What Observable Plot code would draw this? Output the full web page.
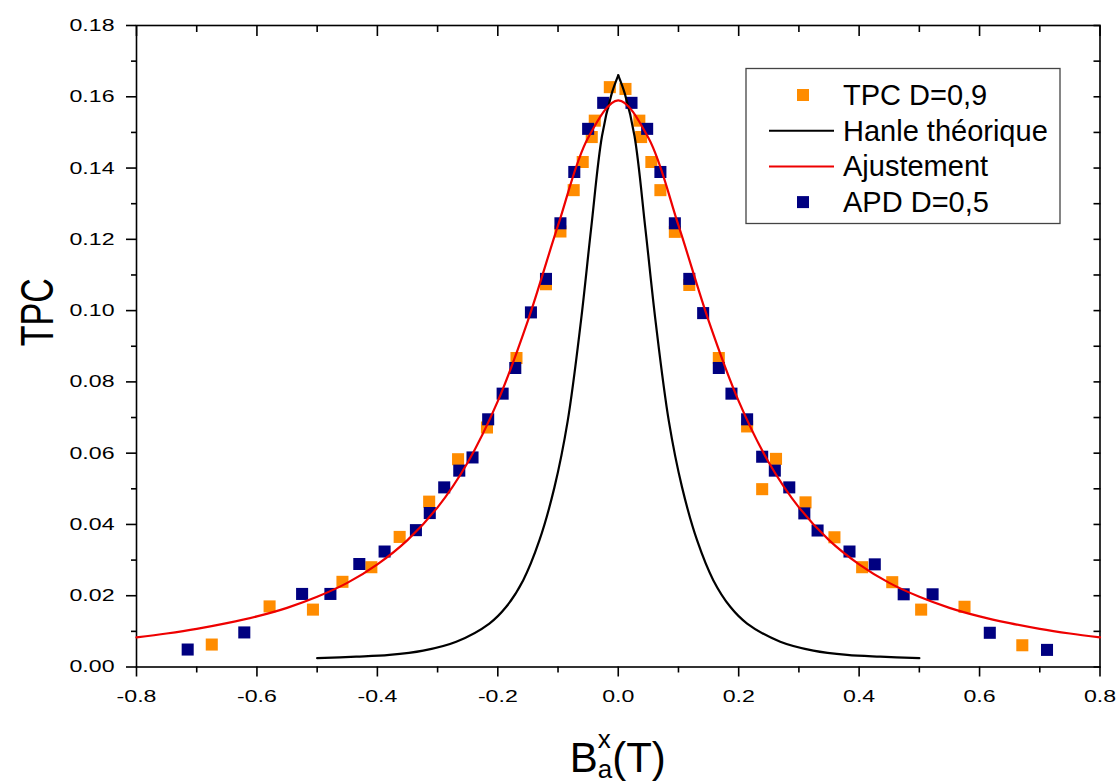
<!DOCTYPE html>
<html>
<head>
<meta charset="utf-8">
<script src="https://cdn.jsdelivr.net/npm/d3@7"></script>
<script src="https://cdn.jsdelivr.net/npm/@observablehq/plot@0.6"></script>
<style>
  html, body { margin: 0; padding: 0; background: #fff; }
</style>
</head>
<body>
<div id="chart"></div>
<script>
// ---- Data ----
const tpcX = [-0.675, -0.579, -0.507, -0.458, -0.410, -0.363, -0.314, -0.266, -0.218, -0.169, -0.120, -0.096, -0.074, -0.059, -0.044, -0.039, -0.014, 0.012, 0.035, 0.038, 0.055, 0.070, 0.094, 0.118, 0.167, 0.214, 0.239, 0.262, 0.311, 0.359, 0.405, 0.455, 0.503, 0.575, 0.671];
const tpcY = [0.0063, 0.0170, 0.0161, 0.0239, 0.0280, 0.0365, 0.0464, 0.0583, 0.0672, 0.0867, 0.1074, 0.1222, 0.1338, 0.1417, 0.1487, 0.1533, 0.1627, 0.1622, 0.1533, 0.1487, 0.1417, 0.1338, 0.1221, 0.1072, 0.0867, 0.0675, 0.0499, 0.0584, 0.0462, 0.0364, 0.0280, 0.0238, 0.0161, 0.0169, 0.0061];

const apdX = [-0.715, -0.621, -0.525, -0.478, -0.430, -0.388, -0.336, -0.313, -0.289, -0.264, -0.242, -0.216, -0.192, -0.171, -0.145, -0.120, -0.096, -0.073, -0.050, -0.025, 0.022, 0.048, 0.070, 0.094, 0.118, 0.141, 0.167, 0.188, 0.214, 0.239, 0.260, 0.284, 0.309, 0.331, 0.384, 0.426, 0.474, 0.522, 0.617, 0.712];
const apdY = [0.0049, 0.0097, 0.0205, 0.0205, 0.0289, 0.0324, 0.0384, 0.0432, 0.0504, 0.0551, 0.0588, 0.0695, 0.0767, 0.0839, 0.0995, 0.1089, 0.1245, 0.1389, 0.1510, 0.1583, 0.1583, 0.1510, 0.1389, 0.1245, 0.1089, 0.0993, 0.0839, 0.0767, 0.0695, 0.0590, 0.0551, 0.0504, 0.0431, 0.0383, 0.0324, 0.0288, 0.0204, 0.0204, 0.0096, 0.0048];

const hanleX = [-0.5, -0.435, -0.38, -0.324, -0.269, -0.214, -0.186, -0.158, -0.131, -0.106, -0.084, -0.062, -0.045, -0.027, -0.011, 0, 0.011, 0.027, 0.045, 0.062, 0.084, 0.106, 0.131, 0.158, 0.186, 0.214, 0.269, 0.324, 0.38, 0.435, 0.5];
const hanleY = [0.0025, 0.0029, 0.0034, 0.0046, 0.0071, 0.0122, 0.0169, 0.0243, 0.0355, 0.0504, 0.0690, 0.0970, 0.1231, 0.1490, 0.1608, 0.1660, 0.1608, 0.1490, 0.1231, 0.0970, 0.0690, 0.0504, 0.0355, 0.0243, 0.0169, 0.0122, 0.0071, 0.0046, 0.0034, 0.0029, 0.0025];

const fitX = [-0.8, -0.75, -0.7, -0.65, -0.6, -0.55, -0.5, -0.45, -0.4, -0.35, -0.3, -0.25, -0.2, -0.15, -0.1, -0.05, 0, 0.05, 0.1, 0.15, 0.2, 0.25, 0.3, 0.35, 0.4, 0.45, 0.5, 0.55, 0.6, 0.65, 0.7, 0.75, 0.8];
const fitY = [0.0083, 0.0094, 0.0107, 0.0123, 0.0142, 0.0166, 0.0197, 0.0236, 0.0288, 0.0356, 0.0448, 0.0574, 0.0746, 0.0972, 0.1239, 0.1485, 0.1590, 0.1485, 0.1239, 0.0972, 0.0746, 0.0574, 0.0448, 0.0356, 0.0288, 0.0236, 0.0197, 0.0166, 0.0142, 0.0123, 0.0107, 0.0094, 0.0083];

const xMajor = [-0.8, -0.6, -0.4, -0.2, 0, 0.2, 0.4, 0.6, 0.8];
const xMinor = [-0.7, -0.5, -0.3, -0.1, 0.1, 0.3, 0.5, 0.7];
const yMajor = [0, 0.02, 0.04, 0.06, 0.08, 0.10, 0.12, 0.14, 0.16, 0.18];
const yMinor = [0.01, 0.03, 0.05, 0.07, 0.09, 0.11, 0.13, 0.15, 0.17];

const seriesNames = ["TPC D=0,9", "Hanle théorique", "Ajustement", "APD D=0,5"];
const seriesColors = ["#ff8c00", "#000000", "#ee0000", "#000080"];
const seriesKinds = ["square", "line", "line", "square"];
const yTitle = "TPC";

// ---- Tables built from the arrays ----
const tpc = tpcX.map((x, i) => ({x, y: tpcY[i]}));
const apd = apdX.map((x, i) => ({x, y: apdY[i]}));
const hanle = [];
hanleX.forEach((x, i) => {
  if (x <= 0) hanle.push({x, y: hanleY[i], side: "L"});
  if (x >= 0) hanle.push({x, y: hanleY[i], side: "R"});
});
const fit = fitX.map((x, i) => ({x, y: fitY[i]}));

const FONT = "'Liberation Sans', Arial, Helvetica, sans-serif";
const SQ_R = 6.8;

const chart = Plot.plot({
  width: 1116,
  height: 783,
  marginLeft: 136,
  marginRight: 16.5,
  marginTop: 25,
  marginBottom: 116.5,
  x: {domain: [-0.8, 0.8]},
  y: {domain: [0, 0.18]},
  style: {fontFamily: FONT, background: "#fff", color: "#000", overflow: "visible"},
  marks: [
    // bottom axis
    Plot.axisX(xMajor, {anchor: "bottom", tickSize: 10, tickPadding: 13, strokeWidth: 1.6, fontSize: 17, tickFormat: d => d.toFixed(1), label: null}),
    Plot.axisX(xMinor, {anchor: "bottom", tickSize: 6, strokeWidth: 1.6, fill: "none", label: null}),
    // top axis (inward)
    Plot.axisX(xMajor, {anchor: "top", tickSize: -10, strokeWidth: 1.6, fill: "none", label: null}),
    Plot.axisX(xMinor, {anchor: "top", tickSize: -6, strokeWidth: 1.6, fill: "none", label: null}),
    // left axis
    Plot.axisY(yMajor, {anchor: "left", tickSize: 10, tickPadding: 12, strokeWidth: 1.6, fontSize: 17, tickFormat: d => d.toFixed(2), label: null}),
    Plot.axisY(yMinor, {anchor: "left", tickSize: 5, strokeWidth: 1.6, fill: "none", label: null}),
    // right axis (inward)
    Plot.axisY(yMajor, {anchor: "right", tickSize: -7, strokeWidth: 1.6, fill: "none", label: null}),
    Plot.axisY(yMinor, {anchor: "right", tickSize: -7, strokeWidth: 1.6, fill: "none", label: null}),
    Plot.frame({stroke: "#000", strokeWidth: 1.6}),
    // y title
    Plot.text([yTitle], {frameAnchor: "left", rotate: -90, dx: -98, fontSize: 34, fill: "#000"}),
    // data
    Plot.dot(tpc, {x: "x", y: "y", symbol: "square", r: SQ_R, fill: seriesColors[0], stroke: "none"}),
    Plot.dot(apd, {x: "x", y: "y", symbol: "square", r: SQ_R, fill: seriesColors[3], stroke: "none"}),
    Plot.line(hanle, {x: "x", y: "y", z: "side", stroke: seriesColors[1], strokeWidth: 2.2, curve: "catmull-rom"}),
    Plot.line(fit, {x: "x", y: "y", stroke: seriesColors[2], strokeWidth: 2.2, curve: "catmull-rom"})
  ]
});

document.getElementById("chart").appendChild(chart);

const svg = d3.select(chart);

// widen text glyphs around their anchor point (the reference's texts are wide)
function widen(sel, sx, sy) {
  sel.each(function () {
    const tr = this.getAttribute("transform");
    if (tr) this.setAttribute("transform", `${tr} scale(${sx},${sy})`);
  });
}
widen(svg.selectAll('g[aria-label$="tick label"] text'), 1.36, 1);
widen(svg.selectAll('g[aria-label="text"] text'), 1, 1.35);

// ---- x title with subscript / superscript ----
const xs = chart.scale("x");
const t = svg.append("text")
  .attr("x", xs.apply(0))
  .attr("y", 772)
  .attr("text-anchor", "middle")
  .attr("font-family", FONT)
  .attr("font-size", 42)
  .attr("fill", "#000");
t.append("tspan").text("B");
t.append("tspan").attr("font-size", 26).attr("dy", -24).text("x");
t.append("tspan").attr("font-size", 26).attr("dx", -13).attr("dy", 30).text("a");
t.append("tspan").attr("dy", -6).text("(T)");

// ---- legend ----
const lg = svg.append("g").attr("font-family", FONT).attr("font-size", 29)
  .attr("fill", "#000").attr("text-anchor", "start");
lg.append("rect").attr("x", 746).attr("y", 68.5).attr("width", 314).attr("height", 155)
  .attr("fill", "#fff").attr("stroke", "#444").attr("stroke-width", 1.3);
seriesNames.forEach((name, i) => {
  const cy = 95 + i * 35.7;
  if (seriesKinds[i] === "square") {
    lg.append("rect").attr("x", 803 - 6).attr("y", cy - 6).attr("width", 12).attr("height", 12).attr("fill", seriesColors[i]);
  } else {
    lg.append("line").attr("x1", 769).attr("x2", 834).attr("y1", cy).attr("y2", cy)
      .attr("stroke", seriesColors[i]).attr("stroke-width", 2);
  }
  lg.append("text").attr("x", 843).attr("y", cy + 10).attr("text-anchor", "start").text(name);
});
</script>
</body>
</html>
